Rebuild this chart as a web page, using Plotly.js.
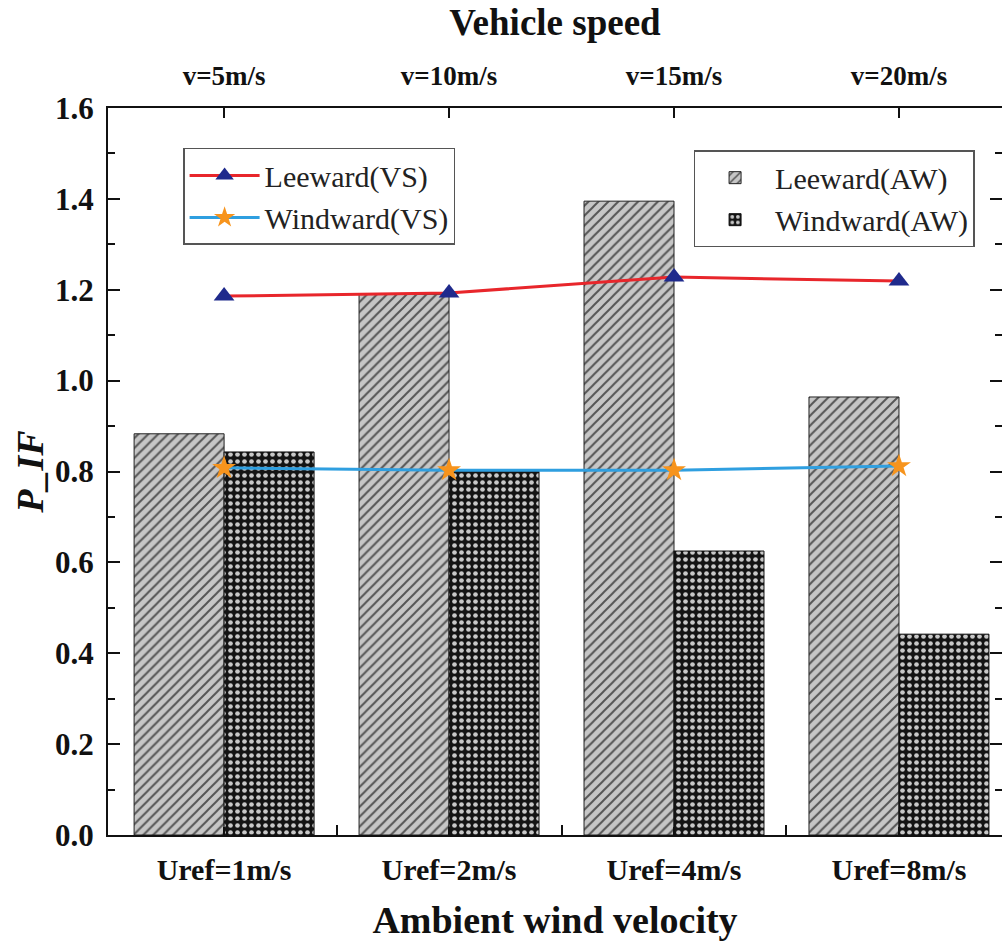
<!DOCTYPE html>
<html>
<head>
<meta charset="utf-8">
<script src="https://cdn.plot.ly/plotly-3.0.1.min.js"></script>
<style>html,body{margin:0;padding:0;background:#fff;}#chart{width:1002px;height:943px;}</style>
</head>
<body>
<div id="chart"></div>
<script>
// Data
const windCategories = ["Uref=1m/s", "Uref=2m/s", "Uref=4m/s", "Uref=8m/s"];
const speedCategories = ["v=5m/s", "v=10m/s", "v=15m/s", "v=20m/s"];
const leewardAW = [0.883, 1.19, 1.395, 0.964];
const windwardAW = [0.843, 0.803, 0.625, 0.442];
const leewardVS = [1.186, 1.193, 1.228, 1.219];
const windwardVS = [0.808, 0.803, 0.803, 0.812];
const yTicks = [0.0, 0.2, 0.4, 0.6, 0.8, 1.0, 1.2, 1.4, 1.6];

const idx = windCategories.map((_, i) => i);
const serif = "Liberation Serif, Times New Roman, serif";
const xr = [-0.516, 3.458];

const traces = [
  {
    type: "bar", name: "Leeward(AW)", x: idx, y: leewardAW, xaxis: "x", yaxis: "y",
    legend: "legend2",
    marker: {
      color: "#bdbdbd",
      line: {color: "#222", width: 1},
      pattern: {shape: "/", fgcolor: "#555", bgcolor: "#c6c6c6", size: 7, solidity: 0.28, fillmode: "replace"}
    }
  },
  {
    type: "bar", name: "Windward(AW)", x: idx, y: windwardAW, xaxis: "x", yaxis: "y",
    legend: "legend2",
    marker: {
      color: "#111",
      line: {color: "#111", width: 1},
      pattern: {shape: ".", fgcolor: "#c8c8c8", bgcolor: "#141414", size: 7, solidity: 0.35, fillmode: "replace"}
    }
  },
  {
    type: "scatter", mode: "lines+markers", name: "Leeward(VS)", x: idx, y: leewardVS,
    xaxis: "x2", yaxis: "y", legend: "legend",
    line: {color: "#e8262b", width: 3},
    marker: {symbol: "triangle-up", size: 18, color: "#1f2a8c"}
  },
  {
    type: "scatter", mode: "lines+markers", name: "Windward(VS)", x: idx, y: windwardVS,
    xaxis: "x2", yaxis: "y", legend: "legend",
    line: {color: "#2f9fe0", width: 3},
    marker: {symbol: "star", size: 18, color: "#f7941d"}
  }
];

const layout = {
  width: 1002, height: 943,
  margin: {l: 108, r: 0, t: 108, b: 108},
  paper_bgcolor: "#fff", plot_bgcolor: "#fff",
  barmode: "group", bargap: 0.2, bargroupgap: 0,
  font: {family: serif, color: "#111"},
  xaxis: {
    type: "linear", range: xr,
    tickmode: "array", tickvals: idx, ticktext: windCategories,
    ticks: "inside", ticklen: 8, tickwidth: 2, tickcolor: "#111",
    minor: {tickmode: "array", tickvals: [0.5, 1.5, 2.5], ticks: "inside", ticklen: 10, tickwidth: 2, tickcolor: "#111"},
    showline: true, linecolor: "#111", linewidth: 2,
    showgrid: false, zeroline: false,
    tickfont: {family: serif, size: 30, color: "#111", weight: "bold"},
    ticklabelstandoff: 7,
    title: {text: "<b>Ambient wind velocity</b>", font: {family: serif, size: 38, color: "#111"}, standoff: 21}
  },
  xaxis2: {
    type: "linear", range: xr, overlaying: "x", side: "top", anchor: "y",
    tickmode: "array", tickvals: idx, ticktext: speedCategories,
    ticks: "inside", ticklen: 10, tickwidth: 2, tickcolor: "#111",
    showline: true, linecolor: "#111", linewidth: 2,
    showgrid: false, zeroline: false,
    tickfont: {family: serif, size: 27, color: "#111", weight: "bold"},
    ticklabelstandoff: 10,
    title: {text: "<b>Vehicle speed</b>", font: {family: serif, size: 37, color: "#111"}, standoff: 14}
  },
  yaxis: {
    range: [0, 1.6],
    tickmode: "array", tickvals: yTicks, tickformat: ".1f",
    ticks: "inside", ticklen: 12, tickwidth: 2, tickcolor: "#111",
    minor: {dtick: 0.1, ticks: "inside", ticklen: 7, tickwidth: 2, tickcolor: "#111"},
    showline: true, linecolor: "#111", linewidth: 2, mirror: "ticks",
    showgrid: false, zeroline: false,
    tickfont: {family: serif, size: 31, color: "#111", weight: "bold"},
    ticklabelstandoff: 6,
    title: {text: "<b><i>P_IF</i></b>", font: {family: serif, size: 38, color: "#111"}, standoff: 0}
  },
  legend: {
    x: 0.084, y: 0.945, xanchor: "left", yanchor: "top",
    bgcolor: "#fff", bordercolor: "#555", borderwidth: 1.5,
    font: {family: serif, size: 30, color: "#222"},
    itemwidth: 70, tracegroupgap: 0
  },
  legend2: {
    x: 0.655, y: 0.942, xanchor: "left", yanchor: "top",
    bgcolor: "#fff", bordercolor: "#555", borderwidth: 1.5,
    font: {family: serif, size: 30, color: "#222"},
    itemwidth: 70, tracegroupgap: 0
  },
  showlegend: true
};

Plotly.newPlot("chart", traces, layout, {displayModeBar: false, staticPlot: true});
</script>
</body>
</html>
